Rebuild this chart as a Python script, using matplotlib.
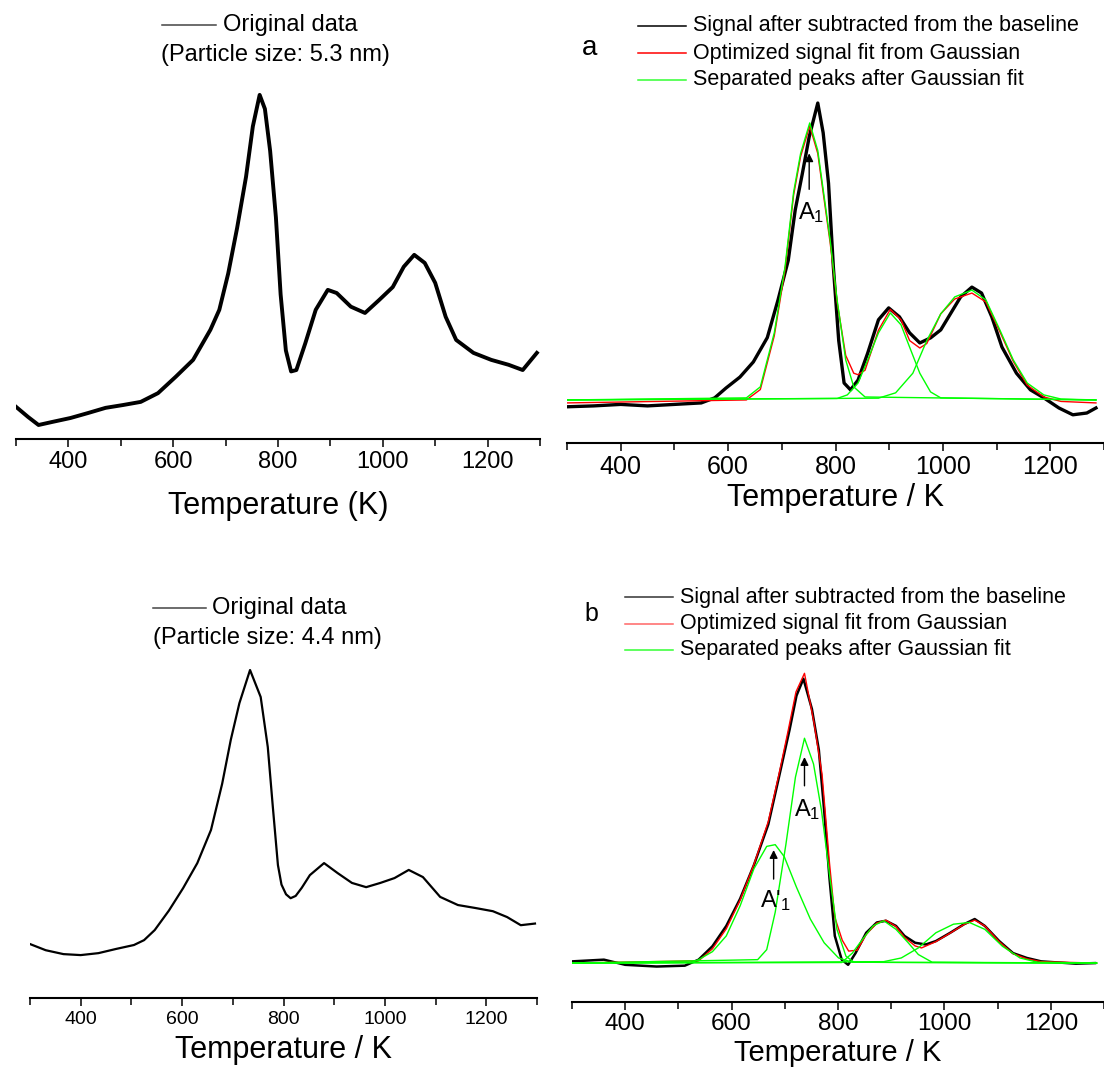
import matplotlib
matplotlib.use("Agg")
import matplotlib.pyplot as plt
from matplotlib.lines import Line2D

plt.rcParams['font.family'] = ['Liberation Sans', 'DejaVu Sans']
plt.rcParams['mathtext.fontset'] = 'custom'
plt.rcParams['mathtext.rm'] = 'Liberation Sans'
plt.rcParams['mathtext.it'] = 'Liberation Sans:italic'

# ---- data (intensity in a.u., temperature in K) ----
# top left: original data, 5.3 nm
tl_T = [300, 323, 343, 370, 404, 437, 471, 504, 538, 571, 605, 638, 671, 688, 705,
        722, 739, 752, 765, 775, 785, 796, 805, 815, 825, 835, 852, 872, 895, 912,
        939, 966, 993, 1019, 1040, 1060, 1080, 1100, 1120, 1140, 1173, 1207, 1240, 1267, 1294]
tl_I = [8.9, 6, 3.7, 4.6, 5.7, 7.1, 8.6, 9.4, 10.3, 12.8, 17.5, 22.3, 30.9, 36.6, 47,
        60, 74.6, 89, 98, 94, 82, 63, 41, 25, 19, 19.4, 27, 36.6, 42.3, 41.4,
        37.5, 35.7, 39.4, 43.1, 48.9, 52.3, 50, 44.3, 34.6, 28, 24.3, 22.3, 20.9, 19.4, 24.3]

# top right (a): baseline-subtracted signal, fit and separated peaks
a_T = [300, 350, 400, 450, 500, 550, 575, 596, 622, 647, 673, 693, 712, 725, 738,
       751, 767, 777, 787, 796, 806, 816, 828, 842, 860, 880, 899, 919, 938, 957,
       977, 996, 1016, 1033, 1054, 1072, 1091, 1110, 1137, 1163, 1188, 1216, 1242, 1268, 1285]
a_sig = [-2.3, -2, -1.5, -2, -1.5, -1, 0.7, 4, 7.7, 12.8, 21, 33.7, 47, 64, 76,
         88.6, 100, 90, 73, 44.8, 20, 5.7, 3.4, 6.7, 15.8, 27, 31, 28, 22.6, 19.2,
         20.9, 23.6, 29.6, 34.7, 38, 36, 28, 17.8, 9, 3.4, 0.7, -2.7, -5, -4.4, -2.7]
a_fit_T = [300, 634, 660, 686, 706, 722, 735, 752, 767, 780, 790, 803, 819, 834, 842,
           855, 880, 902, 922, 938, 957, 970, 996, 1022, 1054, 1080, 1106, 1131, 1157,
           1188, 1220, 1285]
a_fit = [-1, 0, 3.5, 21.6, 43.8, 69, 82, 92.3, 83, 66, 53, 33, 15, 9, 8.5,
         10, 23.5, 30.5, 27, 20, 17.5, 19, 29, 34, 36, 33, 23, 13, 5,
         1, -0.5, -1]
a_p1_T = [300, 634, 660, 686, 706, 722, 735, 752, 767, 780, 790, 803, 819, 834, 855, 1285]
a_p1 = [0, 0.7, 4.4, 22.6, 44.8, 70, 83, 93.3, 84, 67, 53.9, 33.7, 13.5, 4.4, 1, 0]
a_p2_T = [300, 803, 822, 842, 860, 880, 902, 922, 938, 957, 977, 996, 1285]
a_p2 = [0, 0.5, 1.7, 5.7, 13.5, 22.6, 29.3, 25.3, 17.8, 9, 2.7, 0.7, 0]
a_p3_T = [300, 880, 912, 944, 970, 996, 1022, 1054, 1080, 1106, 1131, 1157, 1188, 1220, 1285]
a_p3 = [0, 0.6, 2.4, 9, 20, 29, 34.7, 37, 33.7, 23.6, 13.5, 5.7, 1.7, 0.3, 0]

# bottom left: original data, 4.4 nm
bl_T = [300, 331, 366, 400, 435, 470, 505, 525, 546, 574, 602, 630, 657, 679, 696,
        713, 734, 755, 769, 779, 789, 796, 805, 814, 824, 836, 852, 880, 907, 935,
        963, 991, 1019, 1047, 1075, 1109, 1144, 1178, 1213, 1241, 1268, 1296]
bl_I = [15.7, 13.8, 12.6, 12.3, 12.9, 14.2, 15.4, 16.9, 20, 26, 32.9, 40.6, 50.8, 65, 78.5,
        89.8, 100, 91.7, 76.3, 57.8, 40, 34, 31, 29.8, 30.5, 33, 36.9, 40.6, 37.5, 34.5,
        33.2, 34.5, 36, 38.5, 36.3, 30.2, 27.7, 26.8, 25.8, 24, 21.5, 22]

# bottom right (b)
b_T = [300, 360, 400, 459, 512, 538, 564, 590, 616, 642, 669, 689, 709, 722, 735,
       751, 764, 774, 784, 794, 807, 819, 833, 853, 873, 890, 909, 925, 945, 965,
       984, 1011, 1037, 1057, 1076, 1103, 1129, 1155, 1182, 1215, 1247, 1283]
b_sig = [0.6, 1.2, -0.6, -1.2, -0.9, 1.2, 5.9, 13, 22.5, 34.3, 48.5, 65, 81.6, 93.5, 99.4,
         88.8, 74.5, 53.3, 29.6, 9.5, 1.2, -0.6, 3.5, 10.6, 14.2, 14.8, 13, 9.5, 7.1, 6.5,
         7.7, 10.6, 13.6, 15.4, 13, 7.7, 3.5, 1.8, 0.6, 0.2, -0.2, 0]
b_fit_T = [300, 538, 564, 590, 616, 642, 669, 689, 706, 721, 737, 755, 770, 784, 794,
           808, 820, 836, 853, 873, 890, 909, 925, 945, 957, 984, 1011, 1037, 1057, 1076,
           1103, 1129, 1155, 1182, 1286]
b_fit = [0, 0.8, 5, 12, 22, 34.5, 49.5, 66, 81, 94.8, 101.3, 83.9, 66, 35, 16,
         8, 4.2, 4.5, 10, 14, 15, 12.8, 9, 6, 5.3, 7.5, 10.5, 13.5, 15, 13,
         7.5, 3.3, 1.5, 0.5, 0]
b_p1_T = [300, 649, 666, 682, 702, 720, 737, 754, 769, 785, 798, 815, 830, 1286]
b_p1 = [0, 1.2, 4.7, 17.8, 41.4, 65, 78.6, 69.6, 53.3, 29.6, 11.8, 2.4, 0.3, 0]
b_p1b_T = [300, 525, 538, 564, 590, 616, 642, 666, 682, 699, 722, 748, 774, 801, 827, 1286]
b_p1b = [0, 0.3, 1.2, 4, 9.5, 20, 33, 40.8, 41.4, 37.2, 26.5, 15.4, 7.1, 1.8, 0.3, 0]
b_p2_T = [300, 807, 827, 846, 866, 886, 909, 932, 951, 977, 1286]
b_p2 = [0, 0.2, 3.5, 8.3, 13, 14.8, 11.8, 7.1, 3, 0.3, 0]
b_p3_T = [300, 886, 919, 951, 984, 1017, 1047, 1076, 1109, 1142, 1175, 1286]
b_p3 = [0, 0.5, 1.8, 5.3, 10.6, 13.6, 14.2, 11.8, 5.9, 1.8, 0.3, 0]

major_ticks = [400, 600, 800, 1000, 1200]
minor_ticks = [300, 500, 700, 900, 1100, 1300]
fit_labels = ['Signal after subtracted from the baseline',
              'Optimized signal fit from Gaussian',
              'Separated peaks after Gaussian fit']

W, H = 1104, 1068
fig = plt.figure(figsize=(W / 100, H / 100), dpi=100)


def rect(x0, x1, y0, y1):
    # pixel box -> figure fraction
    return [x0 / W, 1 - y1 / H, (x1 - x0) / W, (y1 - y0) / H]


def style(ax, xlim, ylim, tsize, xlabel, lab_xy, lsize=22, pad=3):
    ax.set_xlim(*xlim)
    ax.set_ylim(*ylim)
    for s in ['left', 'right', 'top']:
        ax.spines[s].set_visible(False)
    ax.spines['bottom'].set_linewidth(1.5)
    ax.set_yticks([])
    ax.set_xticks(major_ticks)
    ax.set_xticks(minor_ticks, minor=True)
    ax.tick_params(axis='x', which='major', length=6, width=1.1, labelsize=tsize, pad=pad)
    ax.tick_params(axis='x', which='minor', length=5, width=1.1)
    ax.patch.set_visible(False)
    ax.set_xlabel(xlabel, fontsize=lsize)
    ax.xaxis.set_label_coords(*lab_xy)
    ax.xaxis.label.set_va('center')


def fig_line(x0, x1, y, color):
    fig.add_artist(Line2D([x0 / W, x1 / W], [1 - y / H] * 2, color=color, lw=1.1))


def fig_text(x, y, s, size, ha='left'):
    fig.text(x / W, 1 - y / H, s, fontsize=size, ha=ha, va='center')


# ---- top left ----
ax1 = fig.add_axes(rect(16, 540, 0, 439))
ax1.plot(tl_T, tl_I, color='black', lw=2.8)
style(ax1, (300, 1300), (-0.3, 125.1), 17, 'Temperature (K)', (0.5, -0.152))
fig_line(162, 216, 25, '#444444')
fig_text(223, 25, 'Original data', 17)
fig_text(161, 55, '(Particle size: 5.3 nm)', 17)

# ---- top right (a) ----
ax2 = fig.add_axes(rect(567, 1104, 0, 443))
ax2.plot(a_T, a_sig, color='black', lw=2.4)
ax2.plot(a_fit_T, a_fit, color='red', lw=1)
for tt, ii in [(a_p1_T, a_p1), (a_p2_T, a_p2), (a_p3_T, a_p3)]:
    ax2.plot(tt, ii, color='#00ff00', lw=1)
style(ax2, (300, 1285), (-14.5, 134.7), 18, 'Temperature / K', (0.5, -0.125))
ax2.annotate('', xy=(751, 84), xytext=(751, 70),
             arrowprops=dict(arrowstyle='-|>', color='black', lw=1, mutation_scale=12))
ax2.text(754, 63, r'A$_1$', fontsize=17, ha='center', va='center')
for k, (lab, col) in enumerate(zip(fit_labels, ['black', 'red', '#33ff33'])):
    fig_line(638, 686, 26 + 27 * k, col)
    fig_text(693, 26 + 27 * k, lab, 15.5)
fig_text(590, 48, 'a', 20, ha='center')

# ---- bottom left ----
ax3 = fig.add_axes(rect(30, 537, 540, 998))
ax3.plot(bl_T, bl_I, color='black', lw=1.6)
style(ax3, (300, 1300), (-0.9, 140), 14, 'Temperature / K', (0.5, -0.114))
fig_line(153, 206, 608, '#444444')
fig_text(212, 608, 'Original data', 17)
fig_text(153, 638, '(Particle size: 4.4 nm)', 17)

# ---- bottom right (b) ----
ax4 = fig.add_axes(rect(572, 1104, 540, 1002))
ax4.plot(b_T, b_sig, color='black', lw=1.8)
ax4.plot(b_fit_T, b_fit, color='red', lw=1)
for tt, ii in [(b_p1_T, b_p1), (b_p1b_T, b_p1b), (b_p2_T, b_p2), (b_p3_T, b_p3)]:
    ax4.plot(tt, ii, color='#00ff00', lw=1)
style(ax4, (300, 1286), (-13.6, 147.9), 17.5, 'Temperature / K', (0.5, -0.110),
      lsize=21, pad=2)
ax4.annotate('', xy=(737, 73), xytext=(737, 61),
             arrowprops=dict(arrowstyle='-|>', color='black', lw=1, mutation_scale=12))
ax4.text(742, 53.5, r'A$_1$', fontsize=17, ha='center', va='center')
ax4.annotate('', xy=(679, 40.5), xytext=(679, 28.4),
             arrowprops=dict(arrowstyle='-|>', color='black', lw=1, mutation_scale=12))
ax4.text(683, 22, r"A$'_1$", fontsize=17, ha='center', va='center')
for k, (lab, col) in enumerate(zip(fit_labels, ['#333333', '#ff6666', '#33ff33'])):
    fig_line(625, 673, 597 + 26.5 * k, col)
    fig_text(680, 597 + 26.5 * k, lab, 15.5)
fig_text(591, 614, 'b', 18, ha='center')

fig.savefig('out.png', dpi=100)
